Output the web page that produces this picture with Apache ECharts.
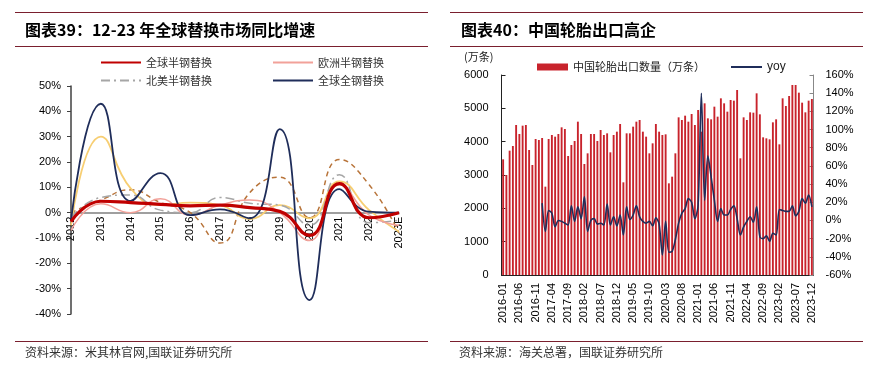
<!DOCTYPE html>
<html><head><meta charset="utf-8">
<script src="https://cdn.jsdelivr.net/npm/echarts@6/dist/echarts.min.js"></script>
<style>html,body{margin:0;padding:0;background:#fff}#c{width:873px;height:368px}</style>
</head><body><div id="c"></div>
<script>
// ---------- Left chart: 12-23 replacement market yoy (%) ----------
const yearCategories = ['2012','2013','2014','2015','2016','2017','2018','2019','2020','2021','2022','2023E'];
const globalSemiSteel = [-3.5, 4.5, 4, 3.3, 2.7, 3, 2, 0.5, -9, 11.5, -2, 0];
const europeSemiSteel = [-7, 3.5, 0, 5.5, -1, 3, 5, 0, -11, 11, -1, -5];
const naSemiSteel = [-2, 6, 7, 1, 0, 6, 3.7, 3, -5, 15, -4, -3];
const globalAllSteel = [-3, 43, 4.6, 15.6, -1, 1.3, -2.2, 33, -34.5, 9.3, 0.4, 0];
const otherYellow = [-5, 30, 9.6, 3, 4, 3, -2.5, 3, -2.2, 12.3, 1, -7.5];
const otherBrownDashed = [0, 5, 9, 4, 0, -12, 8, 14, -2, 21, 11, -8];

// ---------- Right chart: China tyre exports ----------
const exportYears = [2016, 2017, 2018, 2019, 2020, 2021, 2022, 2023];
const monthLabels = [];
exportYears.forEach(y => { for (let m = 1; m <= 12; m++) monthLabels.push(y + '-' + (m < 10 ? '0' + m : m)); });
const exportVolume = [
  3470, 3000, 3730, 3870, 4500, 4230, 4480, 4500, 3750, 3300, 4080, 4050,
  4110, 2650, 4080, 4200, 4150, 4230, 4430, 4380, 3570, 3900, 4020, 4600,
  4230, 3330, 3650, 4230, 4230, 4020, 4350, 4200, 4250, 3680, 4200, 4300,
  4530, 2780, 4250, 4250, 4450, 4600, 4650, 4300, 4150, 3650, 3950, 4530,
  4300, 4200, 4220, 2750, 2950, 3650, 4730, 4650, 4780, 4600, 4830, 4500,
  4950, 4300, 5150, 4700, 4670, 5050, 4750, 5300, 5150, 4900, 5250, 5230,
  5550, 3500, 4730, 4650, 4880, 4870, 5450, 4820, 4130, 4100, 4070, 4580,
  4670, 3920, 5300, 5070, 5370, 5700, 5700, 5470, 5170, 4880, 5230, 5280
];
const exportYoy = [
  null, null, null, null, null, null, null, null, null, null, null, null,
  19, -12, 11, 8, -7, 0, -1, -3, -5, 16, -1, 15,
  2, 26, -12, 0, 2, -4, -3, -5, 18, -5, 4, -6,
  6, -16, 15, 1, 6, 16, 4, -1, -3, -1, -6, 3,
  -4, -38, -1, -35, -34, -21, -3, 8, 13, 24, 20, 2,
  17, 140, 22, 71, 48, 22, -1, 13, 6, 6, 12, 16,
  2, -16, -7, -1, 4, -2, 15, -18, -20, -17, -23, -14,
  -16, 12, 11, 10, 10, 16, 5, 10, 24, 19, 28, 15
];

const CJK = '"Noto Sans CJK SC", sans-serif';
const NUM = '"Liberation Sans", Arial, sans-serif';
const ruleColor = '#7A1F2E';

const chart = echarts.init(document.getElementById('c'), null, {renderer: 'canvas'});

function lineSeries(name, data, color, width, type, z) {
  return {
    name, type: 'line', xAxisIndex: 0, yAxisIndex: 0, data,
    smooth: 0.5, symbol: 'none', z: z,
    lineStyle: {color, width, type: type || 'solid'},
    itemStyle: {color}
  };
}

const option = {
  animation: false,
  backgroundColor: '#fff',
  textStyle: {fontFamily: NUM},
  graphic: [
    {type: 'line', shape: {x1: 15, y1: 12.5, x2: 428, y2: 12.5}, style: {stroke: ruleColor, lineWidth: 1}},
    {type: 'line', shape: {x1: 15, y1: 46.5, x2: 428, y2: 46.5}, style: {stroke: ruleColor, lineWidth: 1}},
    {type: 'line', shape: {x1: 15, y1: 341.5, x2: 428, y2: 341.5}, style: {stroke: ruleColor, lineWidth: 1}},
    {type: 'line', shape: {x1: 450, y1: 12.5, x2: 863, y2: 12.5}, style: {stroke: ruleColor, lineWidth: 1}},
    {type: 'line', shape: {x1: 450, y1: 46.5, x2: 863, y2: 46.5}, style: {stroke: ruleColor, lineWidth: 1}},
    {type: 'line', shape: {x1: 450, y1: 341.5, x2: 863, y2: 341.5}, style: {stroke: ruleColor, lineWidth: 1}},
    {type: 'text', x: 25, y: 30, style: {text: '图表39：12-23 年全球替换市场同比增速', font: 'bold 16px ' + CJK, fill: '#000', verticalAlign: 'middle'}},
    {type: 'text', x: 461, y: 30, style: {text: '图表40：中国轮胎出口高企', font: 'bold 16px ' + CJK, fill: '#000', verticalAlign: 'middle'}},
    {type: 'text', x: 25, y: 352, style: {text: '资料来源：米其林官网,国联证券研究所', font: '12px ' + CJK, fill: '#333', verticalAlign: 'middle'}},
    {type: 'text', x: 459, y: 352, style: {text: '资料来源：海关总署，国联证券研究所', font: '12px ' + CJK, fill: '#333', verticalAlign: 'middle'}},
    {type: 'text', x: 464, y: 57, style: {text: '(万条)', font: '11px ' + CJK, fill: '#222', verticalAlign: 'middle'}}
  ],
  legend: [
    {left: 100, top: 57, padding: 0, itemWidth: 40, itemHeight: 10, itemGap: 60,
     itemStyle: {opacity: 0},
     textStyle: {fontSize: 11, color: '#333', fontFamily: CJK},
     data: ['全球半钢替换', '欧洲半钢替换']},
    {left: 100, top: 75, padding: 0, itemWidth: 40, itemHeight: 10, itemGap: 60,
     itemStyle: {opacity: 0},
     textStyle: {fontSize: 11, color: '#333', fontFamily: CJK},
     data: ['北美半钢替换', '全球全钢替换']},
    {left: 537, top: 61, padding: 0, itemWidth: 31, itemHeight: 7, itemGap: 25,
     textStyle: {fontSize: 11, color: '#222', fontFamily: CJK},
     data: [{name: '中国轮胎出口数量（万条）', icon: 'rect'},
            {name: 'yoy', itemStyle: {opacity: 0}, textStyle: {fontFamily: NUM, fontSize: 12}}]}
  ],
  grid: [
    {left: 71, top: 86, width: 328, height: 228},
    {left: 501.5, top: 75, width: 312, height: 200}
  ],
  xAxis: [
    {gridIndex: 0, type: 'category', data: yearCategories, boundaryGap: false,
     position: 'bottom', offset: -101.3,
     axisLine: {onZero: false, lineStyle: {color: '#808080', width: 1.5}},
     axisTick: {show: false},
     axisLabel: {rotate: 90, interval: 0, fontSize: 11, color: '#000', margin: 4, fontFamily: NUM}},
    {gridIndex: 1, type: 'category', data: monthLabels, boundaryGap: true,
     axisLine: {lineStyle: {color: '#222', width: 1}},
     axisTick: {show: false},
     axisLabel: {rotate: 90, interval: 4, fontSize: 11, color: '#000', margin: 8, fontFamily: NUM}}
  ],
  yAxis: [
    {gridIndex: 0, type: 'value', min: -40, max: 50, interval: 10,
     axisLine: {show: true, lineStyle: {color: '#404040', width: 1.5}},
     axisTick: {show: true, length: 4, lineStyle: {color: '#404040'}},
     splitLine: {show: false},
     axisLabel: {formatter: '{value}%', fontSize: 11, color: '#000', margin: 10, fontFamily: NUM}},
    {gridIndex: 1, type: 'value', min: 0, max: 6000, interval: 1000,
     axisLine: {show: true, lineStyle: {color: '#222'}},
     axisTick: {show: true, inside: true, length: 4, lineStyle: {color: '#222'}},
     splitLine: {show: false},
     axisLabel: {formatter: v => String(v), fontSize: 11, color: '#000', margin: 13, fontFamily: NUM}},
    {gridIndex: 1, type: 'value', position: 'right', min: -60, max: 160, interval: 20,
     axisLine: {show: true, lineStyle: {color: '#888'}},
     axisTick: {show: true, inside: true, length: 4, lineStyle: {color: '#888'}},
     splitLine: {show: false},
     axisLabel: {formatter: '{value}%', fontSize: 11, color: '#000', margin: 12, fontFamily: NUM}}
  ],
  series: [
    lineSeries('北美全钢替换', otherBrownDashed, '#B8743A', 1.5, [5, 4], 2),
    lineSeries('欧洲全钢替换', otherYellow, '#F7CE72', 1.8, 'solid', 3),
    lineSeries('北美半钢替换', naSemiSteel, '#A6A6A6', 1.5, [9, 4, 2, 4], 4),
    lineSeries('欧洲半钢替换', europeSemiSteel, '#F2A199', 1.5, 'solid', 5),
    lineSeries('全球全钢替换', globalAllSteel, '#1F2D5A', 1.8, 'solid', 6),
    lineSeries('全球半钢替换', globalSemiSteel, '#C00000', 3.2, 'solid', 7),
    {name: '中国轮胎出口数量（万条）', type: 'bar', xAxisIndex: 1, yAxisIndex: 1,
     data: exportVolume, barCategoryGap: '42%', itemStyle: {color: '#C8232C'}},
    {name: 'yoy', type: 'line', xAxisIndex: 1, yAxisIndex: 2, data: exportYoy,
     smooth: 0.3, symbol: 'none', z: 5,
     lineStyle: {color: '#1F2D5A', width: 1.6}, itemStyle: {color: '#1F2D5A'}}
  ]
};
chart.setOption(option);
</script>
</body></html>
